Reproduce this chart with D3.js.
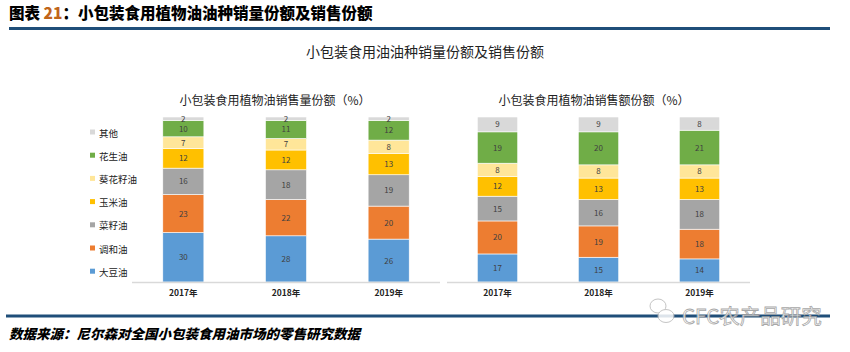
<!DOCTYPE html>
<html><head><meta charset="utf-8">
<script src="https://cdn.jsdelivr.net/npm/d3@7"></script>
<style>
body{margin:0;background:#fff;}
svg{display:block;font-family:"Noto Sans CJK SC","Noto Sans",sans-serif;}
</style></head>
<body><svg id="c" width="850" height="352"></svg>
<script>
const years = ["2017年","2018年","2019年"];
const seriesNames = ["大豆油","调和油","菜籽油","玉米油","葵花籽油","花生油","其他"];
const seriesColors = ["#5b9bd5","#ed7d31","#a5a5a5","#ffc000","#ffe699","#70ad47","#d9d9d9"];
// 销售量份额 (volume)
const volSoybean = [30,28,26];
const volBlend = [23,22,20];
const volRapeseed = [16,18,19];
const volCorn = [12,12,13];
const volSunflower = [7,7,8];
const volPeanut = [10,11,12];
const volOther = [2,2,2];
// 销售额份额 (value)
const valSoybean = [17,15,14];
const valBlend = [20,19,18];
const valRapeseed = [15,16,18];
const valCorn = [12,13,13];
const valSunflower = [8,8,8];
const valPeanut = [19,20,21];
const valOther = [9,9,8];

const volSeries = [volSoybean,volBlend,volRapeseed,volCorn,volSunflower,volPeanut,volOther];
const valSeries = [valSoybean,valBlend,valRapeseed,valCorn,valSunflower,valPeanut,valOther];

const svg = d3.select("#c");
const navy = "#1f4e79";

// header
const h = svg.append("text").attr("x",9).attr("y",19).attr("font-size",15.5).attr("font-weight","900").attr("fill","#000");
h.append("tspan").text("图表 ");
h.append("tspan").attr("fill","#c0651a").text("21");
h.append("tspan").text("：小包装食用植物油油种销量份额及销售份额");
svg.append("rect").attr("x",9).attr("y",27).attr("width",821).attr("height",3).attr("fill",navy);

svg.append("text").attr("x",425).attr("y",57).attr("text-anchor","middle").attr("font-size",14).attr("fill","#222")
  .text("小包装食用油油种销量份额及销售份额");

function drawChart(data, x0, x1, title, titleX){
  const rows = years.map((y,i)=>{const o={year:y}; seriesNames.forEach((s,j)=>o[s]=data[j][i]); return o;});
  const stacked = d3.stack().keys(seriesNames)(rows);
  const x = d3.scaleBand().domain(years).range([x0,x1]).paddingInner(0.6).paddingOuter(0.3);
  const y = d3.scaleLinear().domain([0,100]).range([282,117]);
  svg.append("text").attr("x",titleX).attr("y",105).attr("text-anchor","middle").attr("font-size",12).attr("fill","#222").text(title);
  const g = svg.append("g");
  stacked.forEach((layer,j)=>{
    g.selectAll(null).data(layer).enter().append("rect")
      .attr("x",d=>x(d.data.year)).attr("width",x.bandwidth())
      .attr("y",d=>y(d[1])).attr("height",d=>y(d[0])-y(d[1]))
      .attr("fill",seriesColors[j]).attr("stroke","#fff").attr("stroke-width",0.6);
    g.selectAll(null).data(layer).enter().append("text")
      .attr("x",d=>x(d.data.year)+x.bandwidth()/2).attr("y",d=>(y(d[0])+y(d[1]))/2+3)
      .attr("text-anchor","middle").attr("font-size",8).attr("fill","#404040")
      .text(d=>d[1]-d[0]);
  });
  svg.append("line").attr("x1",x0).attr("x2",x1).attr("y1",282.5).attr("y2",282.5).attr("stroke","#d9d9d9").attr("stroke-width",1.5);
  const ax = svg.append("g").attr("transform","translate(0,283)").call(d3.axisBottom(x).tickSize(0).tickPadding(7));
  ax.select(".domain").remove();
  ax.selectAll("text").attr("font-size",8.5).attr("font-weight","bold").attr("fill","#222").attr("font-family","\"Noto Sans CJK SC\",sans-serif");
}
drawChart(volSeries,132,440,"小包装食用植物油销售量份额（%）",275);
drawChart(valSeries,447,750,"小包装食用植物油销售额份额（%）",594);

// legend
const lg = svg.append("g");
seriesNames.slice().reverse().forEach((s,i)=>{
  const yy = 133 + i*23.2;
  const ci = seriesNames.length-1-i;
  lg.append("rect").attr("x",90).attr("y",yy-3.5).attr("width",5).attr("height",5).attr("fill",seriesColors[ci]);
  lg.append("text").attr("x",99).attr("y",yy+3.5).attr("font-size",9.5).attr("fill","#222").text(s);
});

// bottom line & source
svg.append("rect").attr("x",6).attr("y",314.5).attr("width",824).attr("height",3).attr("fill",navy);
svg.append("text").attr("x",9).attr("y",339).attr("font-size",13.5).attr("font-weight","900").attr("font-style","italic").attr("fill","#000")
  .text("数据来源：尼尔森对全国小包装食用油市场的零售研究数据");

// watermark
const wm = svg.append("g").attr("opacity",0.85);
wm.append("ellipse").attr("cx",658).attr("cy",306).attr("rx",8).attr("ry",7).attr("fill","#fff").attr("stroke","#bbb");
wm.append("ellipse").attr("cx",666).attr("cy",316).attr("rx",8).attr("ry",6.5).attr("fill","#fff").attr("stroke","#bbb");
wm.append("text").attr("x",682).attr("y",324).attr("font-size",20.5).attr("fill","#fff").attr("stroke","#999").attr("stroke-width",0.8)
  .attr("font-family","\"Noto Sans CJK SC\",sans-serif").text("CFC农产品研究");
</script></body></html>
